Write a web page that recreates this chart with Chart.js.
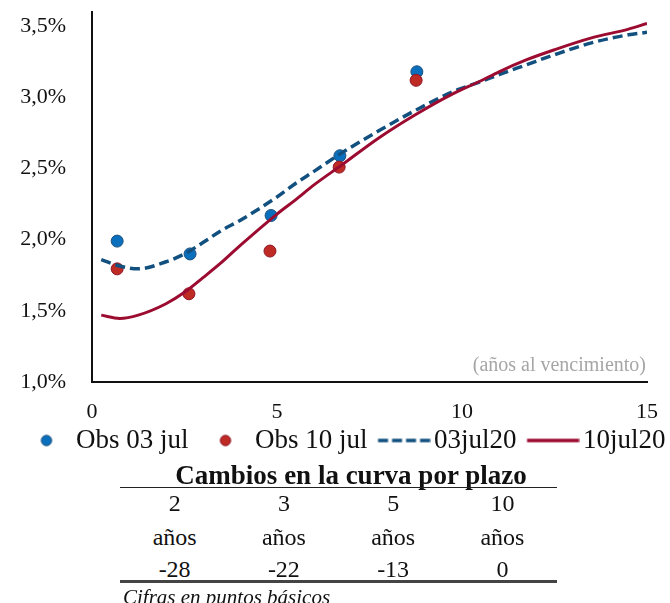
<!DOCTYPE html>
<html>
<head>
<meta charset="utf-8">
<script src="https://cdn.jsdelivr.net/npm/chart.js@4.4.0/dist/chart.umd.min.js"></script>
<style>
  html, body { margin:0; padding:0; background:#fff; width:670px; height:603px; overflow:hidden; }
  #wrap { position:absolute; left:0; top:0; width:670px; height:464px; }
  .t { position:absolute; font-family:"Liberation Serif", "Times New Roman", serif; color:#111; white-space:nowrap; }
  #title { left:351px; top:460px; transform:translateX(-50%); font-weight:bold; font-size:27px; line-height:30px; }
  .rule { position:absolute; left:120px; width:437px; }
  .cell { position:absolute; width:109.25px; text-align:center; font-family:"Liberation Serif", "Times New Roman", serif; font-size:24px; line-height:30px; color:#111; }
  #foot { left:123px; top:585px; font-style:italic; font-size:21px; line-height:24px; }
</style>
</head>
<body>
<div id="wrap"><canvas id="c"></canvas></div>
<div class="t" id="title">Cambios en la curva por plazo</div>
<div class="rule" style="top:487px; border-top:1.5px solid #222;"></div>
<div id="rows"></div>
<div class="rule" style="top:580px; border-top:3px solid #444;"></div>
<div class="t" id="foot">Cifras en puntos básicos</div>
<script>
// ---- data ----
const obsX03 = [0.68, 2.65, 4.84, 6.70, 8.78];
const obs03  = [1.99, 1.90, 2.17, 2.59, 3.18];
const obsX10 = [0.68, 2.62, 4.81, 6.68, 8.76];
const obs10  = [1.795, 1.62, 1.92, 2.51, 3.12];

const curveX  = [0.25, 0.75, 1.25, 2, 2.5, 3, 3.5, 4, 5, 5.5, 6, 6.75, 7.75, 8.75, 9.75, 10.5, 11, 11.75, 12.5, 13.5, 14.5, 15];
const curve03 = [1.86, 1.815, 1.795, 1.845, 1.90, 1.98, 2.065, 2.135, 2.30, 2.395, 2.48, 2.61, 2.765, 2.91, 3.04, 3.11, 3.16, 3.23, 3.30, 3.383, 3.44, 3.457];
const curve10 = [1.47, 1.447, 1.47, 1.55, 1.63, 1.733, 1.84, 1.958, 2.18, 2.28, 2.385, 2.525, 2.715, 2.88, 3.025, 3.115, 3.18, 3.265, 3.335, 3.418, 3.48, 3.52];

const seriesLabels = ['Obs 03 jul', 'Obs 10 jul', '03jul20', '10jul20'];
const yTickValues = [1.0, 1.5, 2.0, 2.5, 3.0, 3.5];
const xTickValues = [0, 5, 10, 15];

const plazos  = ['2', '3', '5', '10'];
const unidad  = 'años';
const cambios = [-28, -22, -13, 0];

// ---- colours ----
const BLUE_FILL = '#0A70BE', BLUE_EDGE = '#1D4F7A';
const RED_FILL = '#BE2A24', RED_EDGE = '#8E1628';
const DASH_COL = '#12507F', SOLID_COL = '#9C0B30';

// ---- table ----
const rowsEl = document.getElementById('rows');
const rowDefs = [
  {top: 488, vals: plazos},
  {top: 522, vals: plazos.map(() => unidad)},
  {top: 554, vals: cambios.map(String)}
];
rowDefs.forEach(r => {
  r.vals.forEach((v, i) => {
    const d = document.createElement('div');
    d.className = 'cell';
    d.style.left = (120 + i * 109.25) + 'px';
    d.style.top = r.top + 'px';
    d.textContent = v;
    rowsEl.appendChild(d);
  });
});

// ---- legend icons (box width 50, centred at box middle) ----
function dotIcon(fill, edge) {
  const c = document.createElement('canvas');
  c.width = 32; c.height = 14;
  const g = c.getContext('2d');
  g.beginPath(); g.arc(25, 7, 5.2, 0, Math.PI * 2);
  g.fillStyle = fill; g.fill();
  g.lineWidth = 1; g.strokeStyle = edge; g.stroke();
  return c;
}
function lineIcon(color, dash, w) {
  const c = document.createElement('canvas');
  c.width = 70; c.height = 8;
  const g = c.getContext('2d');
  g.strokeStyle = color; g.lineWidth = w; g.setLineDash(dash);
  g.beginPath(); g.moveTo(17.5, 4); g.lineTo(69.5, 4); g.stroke();
  return c;
}
const legendIcons = [
  dotIcon(BLUE_FILL, BLUE_EDGE),
  dotIcon(RED_FILL, RED_EDGE),
  lineIcon(DASH_COL, [10, 4], 3.5),
  lineIcon(SOLID_COL, [], 3.5)
];

const noteLabel = {
  id: 'noteLabel',
  afterLayout(chart) {
    if (chart.legend) { chart.legend.left += 4; chart.legend.right += 4; }
  },
  afterDatasetsDraw(chart) {
    const {ctx, chartArea} = chart;
    ctx.save();
    ctx.font = '20px "Liberation Serif"';
    ctx.fillStyle = '#A6A6A6';
    ctx.textAlign = 'right';
    ctx.textBaseline = 'alphabetic';
    ctx.fillText('(años al vencimiento)', chartArea.right - 1, chartArea.bottom - 11);
    ctx.restore();
  }
};

const pts = (xs, ys) => xs.map((x, i) => ({x, y: ys[i]}));
const serif = 'Liberation Serif';

new Chart(document.getElementById('c'), {
  type: 'scatter',
  data: {
    datasets: [
      {label: seriesLabels[0], data: pts(obsX03, obs03), backgroundColor: BLUE_FILL, borderColor: BLUE_EDGE, borderWidth: 1, pointRadius: 6, order: 3},
      {label: seriesLabels[1], data: pts(obsX10, obs10), backgroundColor: RED_FILL, borderColor: RED_EDGE, borderWidth: 1, pointRadius: 6, order: 2},
      {label: seriesLabels[2], type: 'line', data: pts(curveX, curve03), borderColor: DASH_COL, backgroundColor: DASH_COL, borderWidth: 3.5, borderDash: [10, 5], pointRadius: 0, cubicInterpolationMode: 'monotone', fill: false, order: 1},
      {label: seriesLabels[3], type: 'line', data: pts(curveX, curve10), borderColor: SOLID_COL, backgroundColor: SOLID_COL, borderWidth: 3, pointRadius: 0, cubicInterpolationMode: 'monotone', fill: false, order: 0}
    ]
  },
  options: {
    responsive: true,
    maintainAspectRatio: false,
    animation: false,
    layout: {padding: {left: 0, right: 0, top: 12, bottom: 0}},
    plugins: {
      tooltip: {enabled: false},
      legend: {
        position: 'bottom',
        labels: {
          usePointStyle: true,
          pointStyleWidth: 50,
          padding: 3,
          color: '#111',
          font: {family: serif, size: 27},
          sort: (a, b) => a.datasetIndex - b.datasetIndex,
          generateLabels(chart) {
            const items = Chart.defaults.plugins.legend.labels.generateLabels(chart);
            items.forEach(it => { it.pointStyle = legendIcons[it.datasetIndex]; });
            return items;
          }
        }
      }
    },
    scales: {
      x: {
        type: 'linear', min: 0, max: 15,
        afterBuildTicks(scale) { scale.ticks = xTickValues.map(v => ({value: v})); },
        afterFit(scale) { scale.height = 42; },
        ticks: {callback: v => String(v), color: '#111', padding: 1, maxRotation: 0, font: {family: serif, size: 22, lineHeight: 1}},
        grid: {display: false, drawTicks: true, tickLength: 18},
        border: {display: true, color: '#111', width: 2}
      },
      y: {
        type: 'linear', min: 1.0, max: 3.6,
        afterBuildTicks(scale) { scale.ticks = yTickValues.map(v => ({value: v})); },
        afterFit(scale) { scale.width = 92; },
        ticks: {callback: v => v.toFixed(1).replace('.', ',') + '%', color: '#111', padding: 1, font: {family: serif, size: 22, lineHeight: 1}},
        grid: {display: false, drawTicks: true, tickLength: 25},
        border: {display: true, color: '#111', width: 2}
      },
      yRight: {
        type: 'linear', position: 'right', min: 1.0, max: 3.6,
        afterFit(scale) { scale.width = 23; },
        ticks: {display: false},
        grid: {display: false, drawTicks: false},
        border: {display: false}
      }
    }
  },
  plugins: [noteLabel]
});
</script>
</body>
</html>
